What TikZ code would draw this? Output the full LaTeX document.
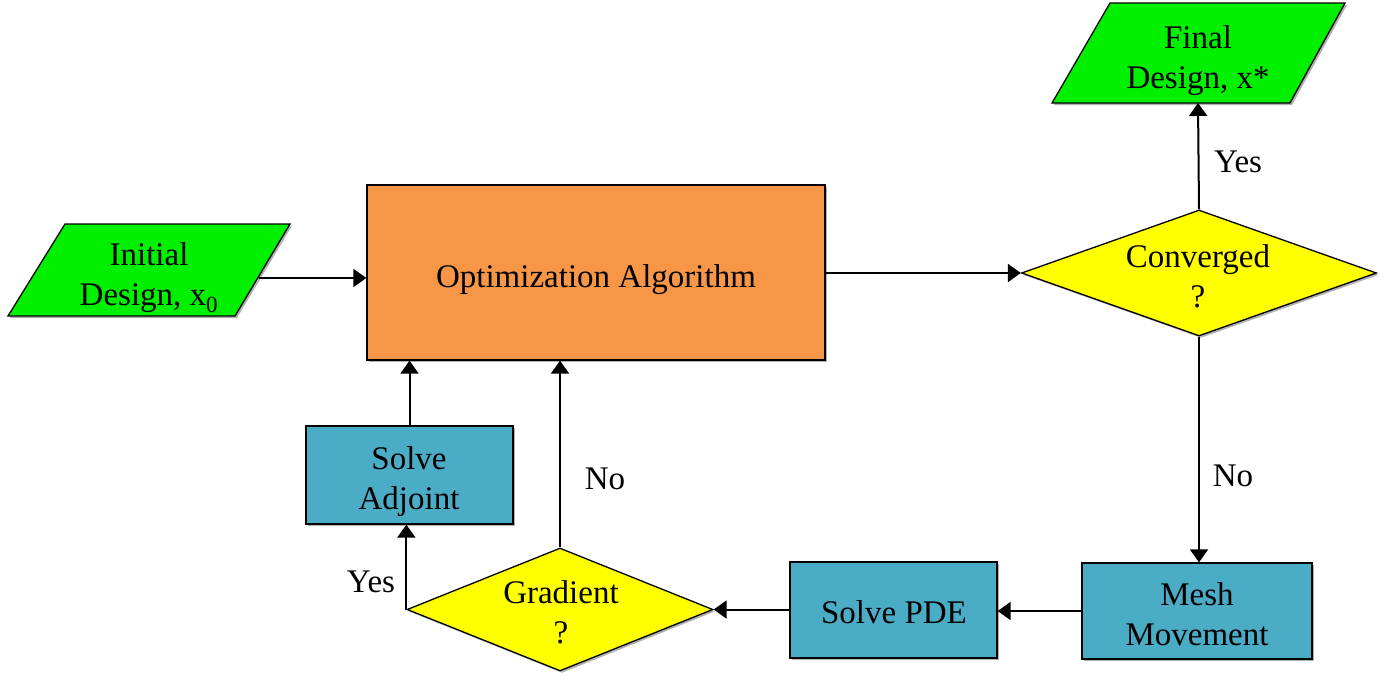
\documentclass[tikz,border=0pt]{standalone}
\usepackage{fontspec}
\setmainfont{Liberation Serif}
\usetikzlibrary{shapes.geometric,arrows.meta,shadows}
\definecolor{ioGreen}{HTML}{00F000}
\definecolor{optOrange}{HTML}{F79646}
\definecolor{procBlue}{HTML}{4BACC6}
\definecolor{decYellow}{HTML}{FFFF00}
\begin{document}
\begin{tikzpicture}[x=1pt,y=-1pt,
  every node/.style={font=\fontsize{33}{40}\selectfont},
  shade/.style={drop shadow={shadow xshift=2pt,shadow yshift=-2pt,opacity=0.3,fill=black}},
  procbox/.style={draw=black,line width=1.3pt,fill=procBlue,shade,inner sep=0pt},
  decbox/.style={diamond,draw=black,line width=1.3pt,fill=decYellow,shade,inner sep=0pt},
  iobox/.style={draw=black,line width=1.3pt,fill=ioGreen,shade},
  txt/.style={align=center,inner sep=0pt},
  arr/.style={line width=2pt,-{Triangle[length=13pt,width=18pt]}},
  ln/.style={line width=2pt}]
\useasboundingbox (0,0) rectangle (1384,683);
% parallelograms
\draw[iobox] (65,224) -- (290,224) -- (235,316) -- (8,316) -- cycle;
\coordinate (initR) at (259,278);
\node[txt] (initT) at (149,278) {Initial\\Design, x\textsubscript{0}};
\draw[iobox] (1110,3) -- (1345,3) -- (1290,103) -- (1052,103) -- cycle;
\coordinate (finB) at (1198,103);
\node[txt] (finT) at (1198,61) {Final\\Design, x*};
% boxes
\node[draw=black,line width=1.3pt,fill=optOrange,shade,minimum width=458pt,minimum height=175pt,inner sep=0pt] (opt) at (596,272.5) {};
\node[txt] (optT) at (596,280) {Optimization Algorithm};
\node[decbox,minimum width=355pt,minimum height=126pt] (conv) at (1199,273) {};
\node[txt] (convT) at (1198,276) {Converged\\?};
\node[procbox,minimum width=230pt,minimum height=96pt] (mesh) at (1197,611) {};
\node[txt] (meshT) at (1197,614) {Mesh\\Movement};
\node[procbox,minimum width=207pt,minimum height=96pt] (pde) at (893.5,610) {};
\node[txt] (pdeT) at (894,612) {Solve PDE};
\node[decbox,minimum width=306pt,minimum height=123pt] (grad) at (560,609.5) {};
\node[txt] (gradT) at (561,612.5) {Gradient\\?};
\node[procbox,minimum width=207pt,minimum height=98pt] (adj) at (409.5,475) {};
\node[txt] (adjT) at (409,481.5) {Solve\\Adjoint};
% connectors
\draw[arr] (initR) -- (initR -| opt.west);
\draw[arr] (opt.east |- conv.west) -- (conv.west);
\draw[arr] (conv.north) -- (finB);
\draw[arr] (conv.south) -- (conv.south |- mesh.north);
\draw[arr] (mesh.west) -- (mesh.west -| pde.east);
\draw[arr] (pde.west |- grad.east) -- (grad.east);
\draw[arr] (grad.west) -- (grad.west |- adj.south);
\draw[arr] (adj.north) -- (adj.north |- opt.south);
\draw[arr] (grad.north) -- (grad.north |- opt.south);
% labels
\node[txt] (yes1) at (1238,162) {Yes};
\node[txt] (no1) at (1233,476) {No};
\node[txt] (no2) at (605,479) {No};
\node[txt] (yes2) at (371,582) {Yes};
\end{tikzpicture}
\end{document}
